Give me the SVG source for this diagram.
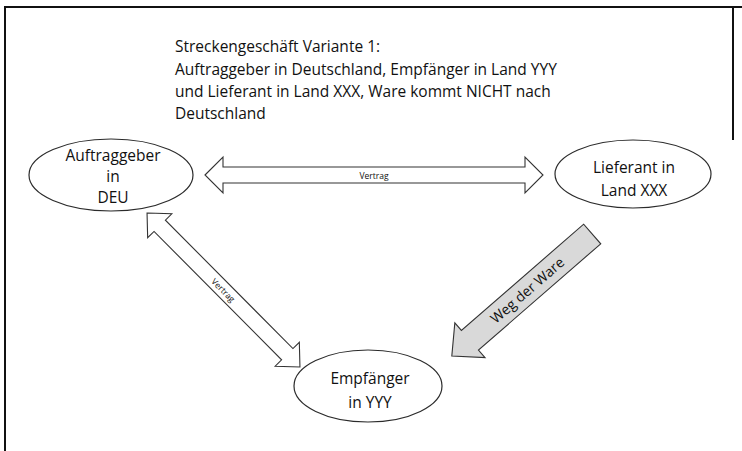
<svg xmlns="http://www.w3.org/2000/svg" width="742" height="451" viewBox="0 0 742 451">
  <style>
    .frame { fill: none; stroke: #111; stroke-width: 2; }
    .node { fill: #fff; stroke: #2b2b2b; stroke-width: 1.2; }
    .label { font-family: "Open Sans", "Liberation Sans", sans-serif; fill: #111; }
    .title { font-size: 15.5px; }
    .ntext { font-size: 15.5px; text-anchor: middle; }
    .small { font-size: 8.5px; text-anchor: middle; dominant-baseline: central; }
    .ware { font-size: 14px; text-anchor: middle; dominant-baseline: central; }
    .arrow { fill: #fff; stroke: #333; stroke-width: 1.1; stroke-linejoin: miter; }
    .flow { fill: #d9d9d9; stroke: #333; stroke-width: 1.1; }
  </style>

  <!-- page frame -->
  <path class="frame" d="M5,451 V7 H742"/>
  <path class="frame" d="M733,7 V140"/>

  <!-- heading -->
  <g id="heading" class="label title">
    <text x="175" y="52">Streckengeschäft Variante 1:</text>
    <text x="175" y="75">Auftraggeber in Deutschland, Empfänger in Land YYY</text>
    <text x="175" y="97">und Lieferant in Land XXX, Ware kommt NICHT nach</text>
    <text x="175" y="119">Deutschland</text>
  </g>

  <!-- connectors -->
  <g id="connectors">
    <g id="vertrag-horizontal" transform="translate(374,175)">
      <path class="arrow" d="M-169,0 L-151,-18 L-151,-8 L151,-8 L151,-18 L169,0 L151,18 L151,8 L-151,8 L-151,18 Z"/>
      <text class="label small" x="0" y="0">Vertrag</text>
    </g>
    <g id="vertrag-diagonal" transform="translate(223.5,290) rotate(45.2)">
      <path class="arrow" d="M-108.5,0 L-90.5,-17 L-90.5,-8 L90.5,-8 L90.5,-17 L108.5,0 L90.5,17 L90.5,8 L-90.5,8 L-90.5,17 Z"/>
      <text class="label small" x="0" y="0">Vertrag</text>
    </g>
    <g id="weg-der-ware">
      <path class="flow" transform="translate(522,295) rotate(139)" d="M-93,-13 L69,-13 L69,-23 L93,0 L69,23 L69,13 L-93,13 Z"/>
      <text class="label ware" transform="translate(527,290) rotate(-41)">Weg der Ware</text>
    </g>
  </g>

  <!-- nodes -->
  <g id="auftraggeber">
    <ellipse class="node" cx="111" cy="175" rx="82" ry="36"/>
    <text class="label ntext" x="113" y="161">Auftraggeber</text>
    <text class="label ntext" x="113" y="182">in</text>
    <text class="label ntext" x="113" y="203">DEU</text>
  </g>
  <g id="lieferant">
    <ellipse class="node" cx="633" cy="174" rx="78" ry="34"/>
    <text class="label ntext" x="634" y="173">Lieferant in</text>
    <text class="label ntext" x="634" y="196">Land XXX</text>
  </g>
  <g id="empfaenger">
    <ellipse class="node" cx="368" cy="386" rx="74" ry="36"/>
    <text class="label ntext" x="370" y="384">Empfänger</text>
    <text class="label ntext" x="370" y="408">in YYY</text>
  </g>
</svg>
